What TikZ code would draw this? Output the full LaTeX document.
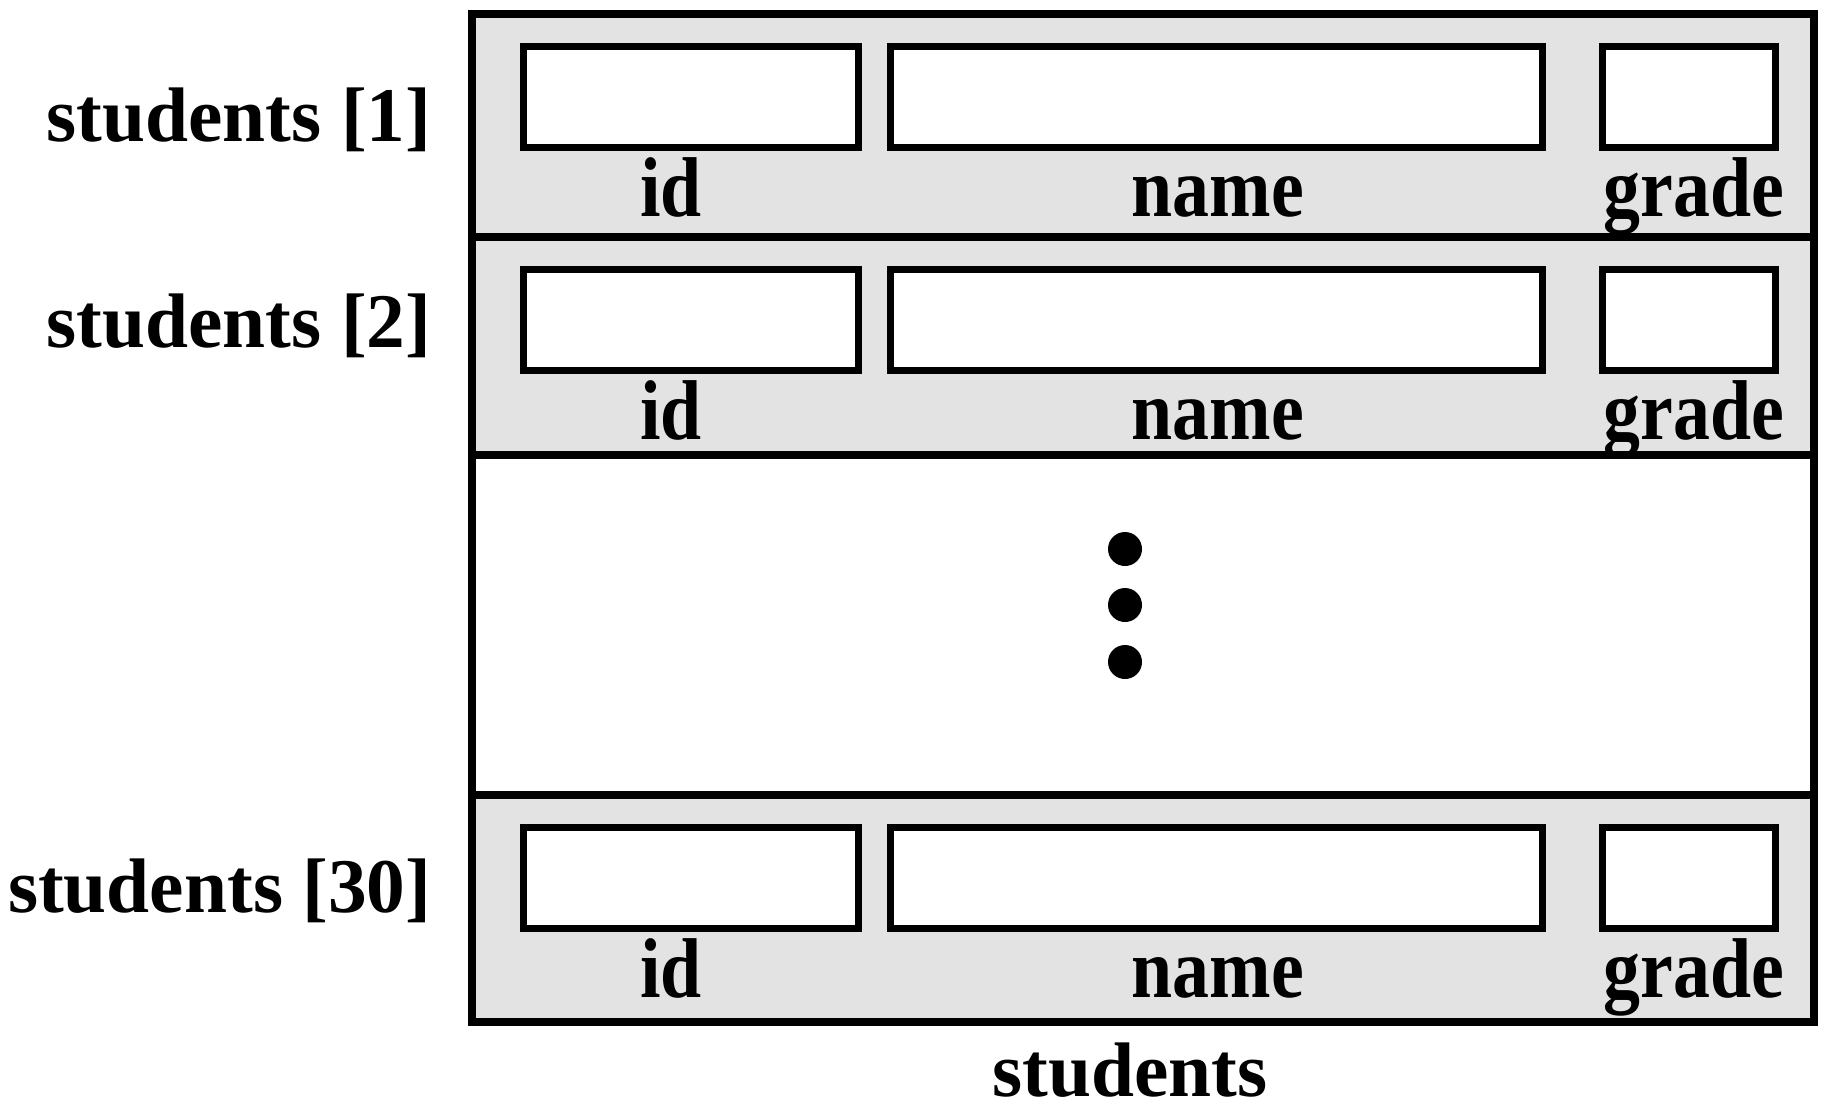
\documentclass[tikz,border=0pt]{standalone}
\usepackage{fontspec}
\setmainfont{Liberation Serif}
\usetikzlibrary{positioning}
\def\lbl{\fontsize{22}{26}\selectfont\bfseries}
\def\fld#1{\scalebox{1}[1.15]{\fontsize{21}{25}\selectfont\bfseries #1}}

\begin{document}
\begin{tikzpicture}[x=0.1mm, y=-0.1mm,
    frame/.style={black, line width=0.8mm},
    field/.style={draw=black, fill=white, line width=0.7mm},
    shade/.style={fill=black!11}]
    \useasboundingbox (0,0) rectangle (1839,1113);
    % the three filled rows
    \foreach \t/\b/\base/\n in {14/237/141/1, 237/455/347/2, 795/1022/912/30} {
        \fill[shade] (472,\t) rectangle (1814,\b);
        \draw[field] (523,\t+32) rectangle (858,\t+133);
        \draw[field] (890,\t+32) rectangle (1542,\t+133);
        \draw[field] (1602,\t+32) rectangle (1775,\t+133);
        \node[anchor=base, inner sep=0] (id-\n) at (671,\t+202) {\fld{id}};
        \node[anchor=base, inner sep=0] (name-\n) at (1218,\t+202) {\fld{name}};
        \node[anchor=base, inner sep=0] (grade-\n) at (1694,\t+202) {\fld{grade}};
        \node[anchor=base east, inner sep=0] (row-\n) at (432,\base) {\lbl students [\n]};
    }
    % gap between row 2 and row 30
    \fill[black] (1125,549) circle (17);
    \fill[black] (1125,605) circle (17);
    \fill[black] (1125,662) circle (17);
    % outer frame and row lines
    \draw[frame] (472,14) rectangle (1814,1022);
    \draw[frame] (472,237) -- (1814,237);
    \draw[frame] (472,455) -- (1814,455);
    \draw[frame] (472,795) -- (1814,795);
    \node[anchor=base, inner sep=0] (caption) at (1130,1096) {\lbl students};
\end{tikzpicture}
\end{document}
